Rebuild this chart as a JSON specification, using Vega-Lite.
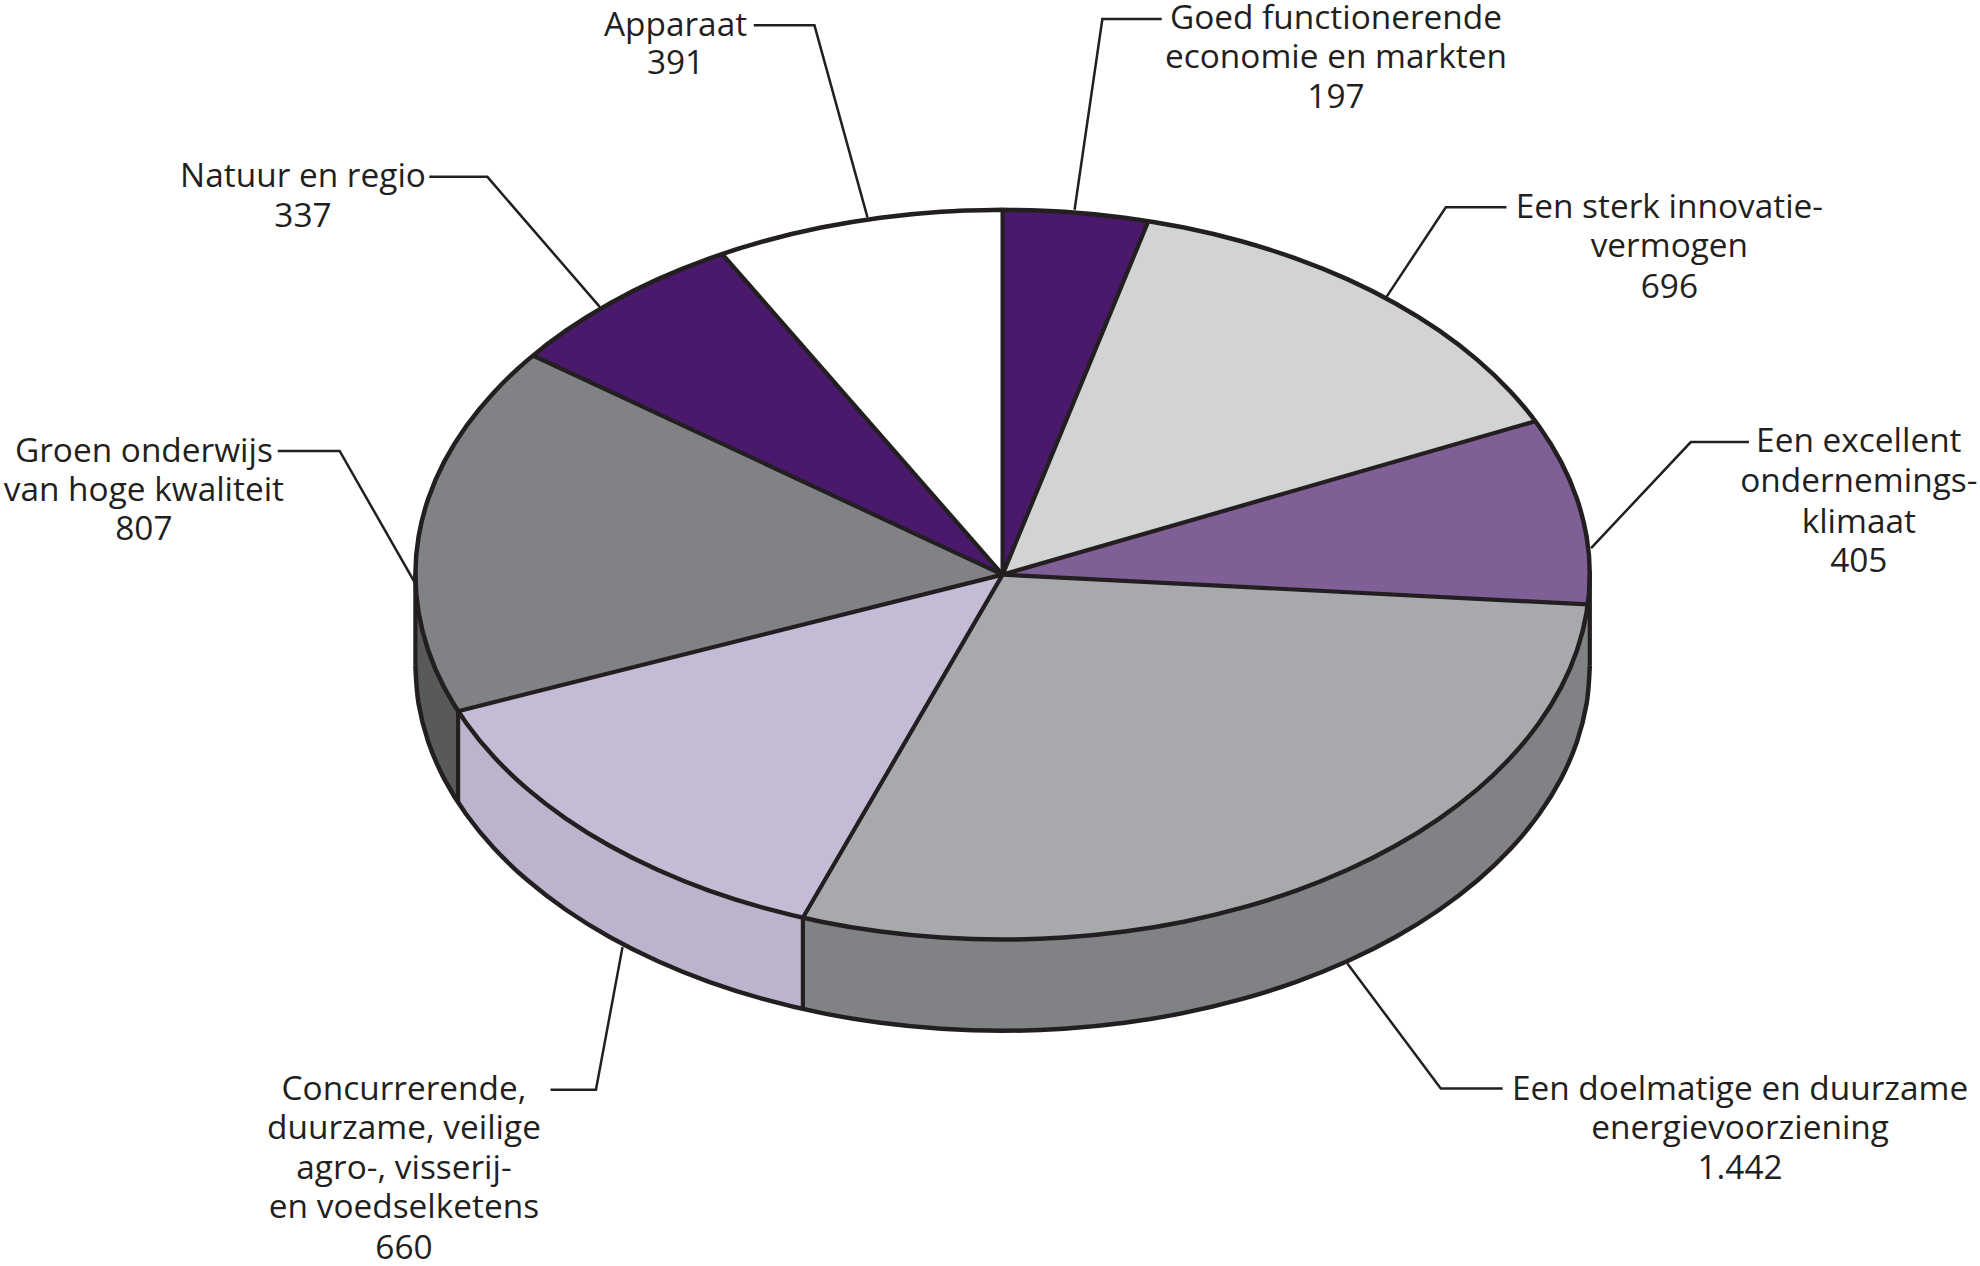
{
"$schema":"https://vega.github.io/schema/vega-lite/v6.json",
"width":1980,"height":1266,"padding":0,
"autosize":{"type":"fit","contains":"padding"},
"background":"white",
"config":{"view":{"stroke":null}},
"datasets":{
"vlakken":[
{"vlak":"Doelmatig zijkant","volg":1,"x":1,"y":0},{"vlak":"Doelmatig zijkant","volg":2,"x":0.9967,"y":-0.0818},{"vlak":"Doelmatig zijkant","volg":3,"x":0.9945,"y":-0.1045},{"vlak":"Doelmatig zijkant","volg":4,"x":0.9781,"y":-0.2079},{"vlak":"Doelmatig zijkant","volg":5,"x":0.9511,"y":-0.309},{"vlak":"Doelmatig zijkant","volg":6,"x":0.9135,"y":-0.4067},{"vlak":"Doelmatig zijkant","volg":7,"x":0.866,"y":-0.5},{"vlak":"Doelmatig zijkant","volg":8,"x":0.809,"y":-0.5878},{"vlak":"Doelmatig zijkant","volg":9,"x":0.7431,"y":-0.6691},{"vlak":"Doelmatig zijkant","volg":10,"x":0.6691,"y":-0.7431},{"vlak":"Doelmatig zijkant","volg":11,"x":0.5878,"y":-0.809},{"vlak":"Doelmatig zijkant","volg":12,"x":0.5,"y":-0.866},{"vlak":"Doelmatig zijkant","volg":13,"x":0.4067,"y":-0.9135},{"vlak":"Doelmatig zijkant","volg":14,"x":0.309,"y":-0.9511},{"vlak":"Doelmatig zijkant","volg":15,"x":0.2079,"y":-0.9781},{"vlak":"Doelmatig zijkant","volg":16,"x":0.1045,"y":-0.9945},{"vlak":"Doelmatig zijkant","volg":17,"x":0,"y":-1},{"vlak":"Doelmatig zijkant","volg":18,"x":-0.1045,"y":-0.9945},{"vlak":"Doelmatig zijkant","volg":19,"x":-0.2079,"y":-0.9781},{"vlak":"Doelmatig zijkant","volg":20,"x":-0.309,"y":-0.9511},{"vlak":"Doelmatig zijkant","volg":21,"x":-0.3401,"y":-0.9404},
{"vlak":"Doelmatig zijkant","volg":22,"x":-0.3401,"y":-1.1904},{"vlak":"Doelmatig zijkant","volg":23,"x":-0.309,"y":-1.2011},{"vlak":"Doelmatig zijkant","volg":24,"x":-0.2079,"y":-1.2281},{"vlak":"Doelmatig zijkant","volg":25,"x":-0.1045,"y":-1.2445},{"vlak":"Doelmatig zijkant","volg":26,"x":0,"y":-1.25},{"vlak":"Doelmatig zijkant","volg":27,"x":0.1045,"y":-1.2445},{"vlak":"Doelmatig zijkant","volg":28,"x":0.2079,"y":-1.2281},{"vlak":"Doelmatig zijkant","volg":29,"x":0.309,"y":-1.2011},{"vlak":"Doelmatig zijkant","volg":30,"x":0.4067,"y":-1.1635},{"vlak":"Doelmatig zijkant","volg":31,"x":0.5,"y":-1.116},{"vlak":"Doelmatig zijkant","volg":32,"x":0.5878,"y":-1.059},{"vlak":"Doelmatig zijkant","volg":33,"x":0.6691,"y":-0.9931},{"vlak":"Doelmatig zijkant","volg":34,"x":0.7431,"y":-0.9191},{"vlak":"Doelmatig zijkant","volg":35,"x":0.809,"y":-0.8378},{"vlak":"Doelmatig zijkant","volg":36,"x":0.866,"y":-0.75},{"vlak":"Doelmatig zijkant","volg":37,"x":0.9135,"y":-0.6567},{"vlak":"Doelmatig zijkant","volg":38,"x":0.9511,"y":-0.559},{"vlak":"Doelmatig zijkant","volg":39,"x":0.9781,"y":-0.4579},{"vlak":"Doelmatig zijkant","volg":40,"x":0.9945,"y":-0.3545},{"vlak":"Doelmatig zijkant","volg":41,"x":0.9967,"y":-0.3318},{"vlak":"Doelmatig zijkant","volg":42,"x":1,"y":-0.25},{"vlak":"Doelmatig zijkant","volg":43,"x":1,"y":0},

{"vlak":"Concurrerend zijkant","volg":1,"x":-0.3401,"y":-0.9404},{"vlak":"Concurrerend zijkant","volg":2,"x":-0.4067,"y":-0.9135},{"vlak":"Concurrerend zijkant","volg":3,"x":-0.5,"y":-0.866},{"vlak":"Concurrerend zijkant","volg":4,"x":-0.5878,"y":-0.809},{"vlak":"Concurrerend zijkant","volg":5,"x":-0.6691,"y":-0.7431},{"vlak":"Concurrerend zijkant","volg":6,"x":-0.7431,"y":-0.6691},{"vlak":"Concurrerend zijkant","volg":7,"x":-0.809,"y":-0.5878},{"vlak":"Concurrerend zijkant","volg":8,"x":-0.866,"y":-0.5},{"vlak":"Concurrerend zijkant","volg":9,"x":-0.9135,"y":-0.4067},{"vlak":"Concurrerend zijkant","volg":10,"x":-0.9273,"y":-0.3742},
{"vlak":"Concurrerend zijkant","volg":11,"x":-0.9273,"y":-0.6242},{"vlak":"Concurrerend zijkant","volg":12,"x":-0.9135,"y":-0.6567},{"vlak":"Concurrerend zijkant","volg":13,"x":-0.866,"y":-0.75},{"vlak":"Concurrerend zijkant","volg":14,"x":-0.809,"y":-0.8378},{"vlak":"Concurrerend zijkant","volg":15,"x":-0.7431,"y":-0.9191},{"vlak":"Concurrerend zijkant","volg":16,"x":-0.6691,"y":-0.9931},{"vlak":"Concurrerend zijkant","volg":17,"x":-0.5878,"y":-1.059},{"vlak":"Concurrerend zijkant","volg":18,"x":-0.5,"y":-1.116},{"vlak":"Concurrerend zijkant","volg":19,"x":-0.4067,"y":-1.1635},{"vlak":"Concurrerend zijkant","volg":20,"x":-0.3401,"y":-1.1904},{"vlak":"Concurrerend zijkant","volg":21,"x":-0.3401,"y":-0.9404},

{"vlak":"Groen zijkant","volg":1,"x":-0.9273,"y":-0.3742},{"vlak":"Groen zijkant","volg":2,"x":-0.9511,"y":-0.309},{"vlak":"Groen zijkant","volg":3,"x":-0.9781,"y":-0.2079},{"vlak":"Groen zijkant","volg":4,"x":-0.9945,"y":-0.1045},{"vlak":"Groen zijkant","volg":5,"x":-1,"y":0},{"vlak":"Groen zijkant","volg":6,"x":-1,"y":-0.25},{"vlak":"Groen zijkant","volg":7,"x":-0.9945,"y":-0.3545},{"vlak":"Groen zijkant","volg":8,"x":-0.9781,"y":-0.4579},{"vlak":"Groen zijkant","volg":9,"x":-0.9511,"y":-0.559},{"vlak":"Groen zijkant","volg":10,"x":-0.9273,"y":-0.6242},{"vlak":"Groen zijkant","volg":11,"x":-0.9273,"y":-0.3742},

{"vlak":"Goed","volg":0,"x":0,"y":0},{"vlak":"Goed","volg":1,"x":0,"y":1},{"vlak":"Goed","volg":2,"x":0.1045,"y":0.9945},{"vlak":"Goed","volg":3,"x":0.2079,"y":0.9781},{"vlak":"Goed","volg":4,"x":0.2482,"y":0.9687},{"vlak":"Goed","volg":5,"x":0,"y":0},

{"vlak":"Sterk","volg":0,"x":0,"y":0},{"vlak":"Sterk","volg":1,"x":0.2482,"y":0.9687},{"vlak":"Sterk","volg":2,"x":0.309,"y":0.9511},{"vlak":"Sterk","volg":3,"x":0.4067,"y":0.9135},{"vlak":"Sterk","volg":4,"x":0.5,"y":0.866},{"vlak":"Sterk","volg":5,"x":0.5878,"y":0.809},{"vlak":"Sterk","volg":6,"x":0.6691,"y":0.7431},{"vlak":"Sterk","volg":7,"x":0.7431,"y":0.6691},{"vlak":"Sterk","volg":8,"x":0.809,"y":0.5878},{"vlak":"Sterk","volg":9,"x":0.866,"y":0.5},{"vlak":"Sterk","volg":10,"x":0.9073,"y":0.4204},{"vlak":"Sterk","volg":11,"x":0,"y":0},

{"vlak":"Excellent","volg":0,"x":0,"y":0},{"vlak":"Excellent","volg":1,"x":0.9073,"y":0.4204},{"vlak":"Excellent","volg":2,"x":0.9135,"y":0.4067},{"vlak":"Excellent","volg":3,"x":0.9511,"y":0.309},{"vlak":"Excellent","volg":4,"x":0.9781,"y":0.2079},{"vlak":"Excellent","volg":5,"x":0.9945,"y":0.1045},{"vlak":"Excellent","volg":6,"x":1,"y":0},{"vlak":"Excellent","volg":7,"x":0.9967,"y":-0.0818},{"vlak":"Excellent","volg":8,"x":0,"y":0},

{"vlak":"Doelmatig","volg":0,"x":0,"y":0},{"vlak":"Doelmatig","volg":1,"x":0.9967,"y":-0.0818},{"vlak":"Doelmatig","volg":2,"x":0.9945,"y":-0.1045},{"vlak":"Doelmatig","volg":3,"x":0.9781,"y":-0.2079},{"vlak":"Doelmatig","volg":4,"x":0.9511,"y":-0.309},{"vlak":"Doelmatig","volg":5,"x":0.9135,"y":-0.4067},{"vlak":"Doelmatig","volg":6,"x":0.866,"y":-0.5},{"vlak":"Doelmatig","volg":7,"x":0.809,"y":-0.5878},{"vlak":"Doelmatig","volg":8,"x":0.7431,"y":-0.6691},{"vlak":"Doelmatig","volg":9,"x":0.6691,"y":-0.7431},{"vlak":"Doelmatig","volg":10,"x":0.5878,"y":-0.809},{"vlak":"Doelmatig","volg":11,"x":0.5,"y":-0.866},{"vlak":"Doelmatig","volg":12,"x":0.4067,"y":-0.9135},{"vlak":"Doelmatig","volg":13,"x":0.309,"y":-0.9511},{"vlak":"Doelmatig","volg":14,"x":0.2079,"y":-0.9781},{"vlak":"Doelmatig","volg":15,"x":0.1045,"y":-0.9945},{"vlak":"Doelmatig","volg":16,"x":0,"y":-1},{"vlak":"Doelmatig","volg":17,"x":-0.1045,"y":-0.9945},{"vlak":"Doelmatig","volg":18,"x":-0.2079,"y":-0.9781},{"vlak":"Doelmatig","volg":19,"x":-0.309,"y":-0.9511},{"vlak":"Doelmatig","volg":20,"x":-0.3401,"y":-0.9404},{"vlak":"Doelmatig","volg":21,"x":0,"y":0},

{"vlak":"Concurrerend","volg":0,"x":0,"y":0},{"vlak":"Concurrerend","volg":1,"x":-0.3401,"y":-0.9404},{"vlak":"Concurrerend","volg":2,"x":-0.4067,"y":-0.9135},{"vlak":"Concurrerend","volg":3,"x":-0.5,"y":-0.866},{"vlak":"Concurrerend","volg":4,"x":-0.5878,"y":-0.809},{"vlak":"Concurrerend","volg":5,"x":-0.6691,"y":-0.7431},{"vlak":"Concurrerend","volg":6,"x":-0.7431,"y":-0.6691},{"vlak":"Concurrerend","volg":7,"x":-0.809,"y":-0.5878},{"vlak":"Concurrerend","volg":8,"x":-0.866,"y":-0.5},{"vlak":"Concurrerend","volg":9,"x":-0.9135,"y":-0.4067},{"vlak":"Concurrerend","volg":10,"x":-0.9273,"y":-0.3742},{"vlak":"Concurrerend","volg":11,"x":0,"y":0},

{"vlak":"Groen","volg":0,"x":0,"y":0},{"vlak":"Groen","volg":1,"x":-0.9273,"y":-0.3742},{"vlak":"Groen","volg":2,"x":-0.9511,"y":-0.309},{"vlak":"Groen","volg":3,"x":-0.9781,"y":-0.2079},{"vlak":"Groen","volg":4,"x":-0.9945,"y":-0.1045},{"vlak":"Groen","volg":5,"x":-1,"y":0},{"vlak":"Groen","volg":6,"x":-0.9945,"y":0.1045},{"vlak":"Groen","volg":7,"x":-0.9781,"y":0.2079},{"vlak":"Groen","volg":8,"x":-0.9511,"y":0.309},{"vlak":"Groen","volg":9,"x":-0.9135,"y":0.4067},{"vlak":"Groen","volg":10,"x":-0.866,"y":0.5},{"vlak":"Groen","volg":11,"x":-0.809,"y":0.5878},{"vlak":"Groen","volg":12,"x":-0.7997,"y":0.6004},{"vlak":"Groen","volg":13,"x":0,"y":0},

{"vlak":"Natuur","volg":0,"x":0,"y":0},{"vlak":"Natuur","volg":1,"x":-0.7997,"y":0.6004},{"vlak":"Natuur","volg":2,"x":-0.7431,"y":0.6691},{"vlak":"Natuur","volg":3,"x":-0.6691,"y":0.7431},{"vlak":"Natuur","volg":4,"x":-0.5878,"y":0.809},{"vlak":"Natuur","volg":5,"x":-0.5,"y":0.866},{"vlak":"Natuur","volg":6,"x":-0.4775,"y":0.8786},{"vlak":"Natuur","volg":7,"x":0,"y":0},

{"vlak":"Apparaat","volg":0,"x":0,"y":0},{"vlak":"Apparaat","volg":1,"x":-0.4775,"y":0.8786},{"vlak":"Apparaat","volg":2,"x":-0.4067,"y":0.9135},{"vlak":"Apparaat","volg":3,"x":-0.309,"y":0.9511},{"vlak":"Apparaat","volg":4,"x":-0.2079,"y":0.9781},{"vlak":"Apparaat","volg":5,"x":-0.1045,"y":0.9945},{"vlak":"Apparaat","volg":6,"x":0,"y":1},{"vlak":"Apparaat","volg":7,"x":0,"y":0}
],
"randen":[
{"rand":"boven","volg":1,"x":0,"y":1},{"rand":"boven","volg":2,"x":0.1045,"y":0.9945},{"rand":"boven","volg":3,"x":0.2079,"y":0.9781},{"rand":"boven","volg":4,"x":0.309,"y":0.9511},{"rand":"boven","volg":5,"x":0.4067,"y":0.9135},{"rand":"boven","volg":6,"x":0.5,"y":0.866},{"rand":"boven","volg":7,"x":0.5878,"y":0.809},{"rand":"boven","volg":8,"x":0.6691,"y":0.7431},{"rand":"boven","volg":9,"x":0.7431,"y":0.6691},{"rand":"boven","volg":10,"x":0.809,"y":0.5878},{"rand":"boven","volg":11,"x":0.866,"y":0.5},{"rand":"boven","volg":12,"x":0.9135,"y":0.4067},{"rand":"boven","volg":13,"x":0.9511,"y":0.309},{"rand":"boven","volg":14,"x":0.9781,"y":0.2079},{"rand":"boven","volg":15,"x":0.9945,"y":0.1045},{"rand":"boven","volg":16,"x":1,"y":0},{"rand":"boven","volg":17,"x":0.9945,"y":-0.1045},{"rand":"boven","volg":18,"x":0.9781,"y":-0.2079},{"rand":"boven","volg":19,"x":0.9511,"y":-0.309},{"rand":"boven","volg":20,"x":0.9135,"y":-0.4067},{"rand":"boven","volg":21,"x":0.866,"y":-0.5},{"rand":"boven","volg":22,"x":0.809,"y":-0.5878},{"rand":"boven","volg":23,"x":0.7431,"y":-0.6691},{"rand":"boven","volg":24,"x":0.6691,"y":-0.7431},{"rand":"boven","volg":25,"x":0.5878,"y":-0.809},{"rand":"boven","volg":26,"x":0.5,"y":-0.866},{"rand":"boven","volg":27,"x":0.4067,"y":-0.9135},{"rand":"boven","volg":28,"x":0.309,"y":-0.9511},{"rand":"boven","volg":29,"x":0.2079,"y":-0.9781},{"rand":"boven","volg":30,"x":0.1045,"y":-0.9945},{"rand":"boven","volg":31,"x":0,"y":-1},{"rand":"boven","volg":32,"x":-0.1045,"y":-0.9945},{"rand":"boven","volg":33,"x":-0.2079,"y":-0.9781},{"rand":"boven","volg":34,"x":-0.309,"y":-0.9511},{"rand":"boven","volg":35,"x":-0.4067,"y":-0.9135},{"rand":"boven","volg":36,"x":-0.5,"y":-0.866},{"rand":"boven","volg":37,"x":-0.5878,"y":-0.809},{"rand":"boven","volg":38,"x":-0.6691,"y":-0.7431},{"rand":"boven","volg":39,"x":-0.7431,"y":-0.6691},{"rand":"boven","volg":40,"x":-0.809,"y":-0.5878},{"rand":"boven","volg":41,"x":-0.866,"y":-0.5},{"rand":"boven","volg":42,"x":-0.9135,"y":-0.4067},{"rand":"boven","volg":43,"x":-0.9511,"y":-0.309},{"rand":"boven","volg":44,"x":-0.9781,"y":-0.2079},{"rand":"boven","volg":45,"x":-0.9945,"y":-0.1045},{"rand":"boven","volg":46,"x":-1,"y":0},{"rand":"boven","volg":47,"x":-0.9945,"y":0.1045},{"rand":"boven","volg":48,"x":-0.9781,"y":0.2079},{"rand":"boven","volg":49,"x":-0.9511,"y":0.309},{"rand":"boven","volg":50,"x":-0.9135,"y":0.4067},{"rand":"boven","volg":51,"x":-0.866,"y":0.5},{"rand":"boven","volg":52,"x":-0.809,"y":0.5878},{"rand":"boven","volg":53,"x":-0.7431,"y":0.6691},{"rand":"boven","volg":54,"x":-0.6691,"y":0.7431},{"rand":"boven","volg":55,"x":-0.5878,"y":0.809},{"rand":"boven","volg":56,"x":-0.5,"y":0.866},{"rand":"boven","volg":57,"x":-0.4067,"y":0.9135},{"rand":"boven","volg":58,"x":-0.309,"y":0.9511},{"rand":"boven","volg":59,"x":-0.2079,"y":0.9781},{"rand":"boven","volg":60,"x":-0.1045,"y":0.9945},{"rand":"boven","volg":61,"x":0,"y":1},

{"rand":"onder","volg":1,"x":1,"y":-0.25},{"rand":"onder","volg":2,"x":0.9945,"y":-0.3545},{"rand":"onder","volg":3,"x":0.9781,"y":-0.4579},{"rand":"onder","volg":4,"x":0.9511,"y":-0.559},{"rand":"onder","volg":5,"x":0.9135,"y":-0.6567},{"rand":"onder","volg":6,"x":0.866,"y":-0.75},{"rand":"onder","volg":7,"x":0.809,"y":-0.8378},{"rand":"onder","volg":8,"x":0.7431,"y":-0.9191},{"rand":"onder","volg":9,"x":0.6691,"y":-0.9931},{"rand":"onder","volg":10,"x":0.5878,"y":-1.059},{"rand":"onder","volg":11,"x":0.5,"y":-1.116},{"rand":"onder","volg":12,"x":0.4067,"y":-1.1635},{"rand":"onder","volg":13,"x":0.309,"y":-1.2011},{"rand":"onder","volg":14,"x":0.2079,"y":-1.2281},{"rand":"onder","volg":15,"x":0.1045,"y":-1.2445},{"rand":"onder","volg":16,"x":0,"y":-1.25},{"rand":"onder","volg":17,"x":-0.1045,"y":-1.2445},{"rand":"onder","volg":18,"x":-0.2079,"y":-1.2281},{"rand":"onder","volg":19,"x":-0.309,"y":-1.2011},{"rand":"onder","volg":20,"x":-0.4067,"y":-1.1635},{"rand":"onder","volg":21,"x":-0.5,"y":-1.116},{"rand":"onder","volg":22,"x":-0.5878,"y":-1.059},{"rand":"onder","volg":23,"x":-0.6691,"y":-0.9931},{"rand":"onder","volg":24,"x":-0.7431,"y":-0.9191},{"rand":"onder","volg":25,"x":-0.809,"y":-0.8378},{"rand":"onder","volg":26,"x":-0.866,"y":-0.75},{"rand":"onder","volg":27,"x":-0.9135,"y":-0.6567},{"rand":"onder","volg":28,"x":-0.9511,"y":-0.559},{"rand":"onder","volg":29,"x":-0.9781,"y":-0.4579},{"rand":"onder","volg":30,"x":-0.9945,"y":-0.3545},{"rand":"onder","volg":31,"x":-1,"y":-0.25}
],
"spaken":[
{"spaak":"a","volg":1,"x":0,"y":0},{"spaak":"a","volg":2,"x":0,"y":1},
{"spaak":"b","volg":1,"x":0,"y":0},{"spaak":"b","volg":2,"x":0.2482,"y":0.9687},
{"spaak":"c","volg":1,"x":0,"y":0},{"spaak":"c","volg":2,"x":0.9073,"y":0.4204},
{"spaak":"d","volg":1,"x":0,"y":0},{"spaak":"d","volg":2,"x":0.9967,"y":-0.0818},
{"spaak":"e","volg":1,"x":0,"y":0},{"spaak":"e","volg":2,"x":-0.3401,"y":-0.9404},{"spaak":"e","volg":3,"x":-0.3401,"y":-1.1904},
{"spaak":"f","volg":1,"x":0,"y":0},{"spaak":"f","volg":2,"x":-0.9273,"y":-0.3742},{"spaak":"f","volg":3,"x":-0.9273,"y":-0.6242},
{"spaak":"g","volg":1,"x":0,"y":0},{"spaak":"g","volg":2,"x":-0.7997,"y":0.6004},
{"spaak":"h","volg":1,"x":0,"y":0},{"spaak":"h","volg":2,"x":-0.4775,"y":0.8786},
{"spaak":"i","volg":1,"x":1,"y":0},{"spaak":"i","volg":2,"x":1,"y":-0.25},
{"spaak":"j","volg":1,"x":-1,"y":0},{"spaak":"j","volg":2,"x":-1,"y":-0.25}
],
"lijnen":[
{"naar":"Goed","volg":1,"x":0.1226,"y":1.0},{"naar":"Goed","volg":2,"x":0.1699,"y":1.5225},{"naar":"Goed","volg":3,"x":0.271,"y":1.5225},
{"naar":"Apparaat","volg":1,"x":-0.2301,"y":0.9792},{"naar":"Apparaat","volg":2,"x":-0.3204,"y":1.5052},{"naar":"Apparaat","volg":3,"x":-0.4237,"y":1.5052},
{"naar":"Natuur","volg":1,"x":-0.686,"y":0.7336},{"naar":"Natuur","volg":2,"x":-0.8774,"y":1.09},{"naar":"Natuur","volg":3,"x":-0.9763,"y":1.09},
{"naar":"Groen","volg":1,"x":-0.9978,"y":-0.0311},{"naar":"Groen","volg":2,"x":-1.129,"y":0.3391},{"naar":"Groen","volg":3,"x":-1.2344,"y":0.3391},
{"naar":"Concurrerend","volg":1,"x":-0.6473,"y":-1.0208},{"naar":"Concurrerend","volg":2,"x":-0.6925,"y":-1.4118},{"naar":"Concurrerend","volg":3,"x":-0.7699,"y":-1.4118},
{"naar":"Doelmatig","volg":1,"x":0.5871,"y":-1.0657},{"naar":"Doelmatig","volg":2,"x":0.7462,"y":-1.4083},{"naar":"Doelmatig","volg":3,"x":0.8516,"y":-1.4083},
{"naar":"Excellent","volg":1,"x":1.0022,"y":0.0727},{"naar":"Excellent","volg":2,"x":1.172,"y":0.3633},{"naar":"Excellent","volg":3,"x":1.271,"y":0.3633},
{"naar":"Sterk","volg":1,"x":0.6538,"y":0.7612},{"naar":"Sterk","volg":2,"x":0.7548,"y":1.0069},{"naar":"Sterk","volg":3,"x":0.8581,"y":1.0069}
],
"teksten":[
{"t":"Goed functionerende","x":0.5677,"y":1.526},{"t":"economie en markten","x":0.5677,"y":1.4187},{"t":"197","x":0.5677,"y":1.308},
{"t":"Apparaat","x":-0.557,"y":1.5052},{"t":"391","x":-0.557,"y":1.4014},
{"t":"Natuur en regio","x":-1.1914,"y":1.0934},{"t":"337","x":-1.1914,"y":0.9827},
{"t":"Groen onderwijs","x":-1.4624,"y":0.3391},{"t":"van hoge kwaliteit","x":-1.4624,"y":0.2318},{"t":"807","x":-1.4624,"y":0.1246},
{"t":"Concurrerende,","x":-1.0194,"y":-1.4083},{"t":"duurzame, veilige","x":-1.0194,"y":-1.5156},{"t":"agro-, visserij-","x":-1.0194,"y":-1.6263},{"t":"en voedselketens","x":-1.0194,"y":-1.7336},{"t":"660","x":-1.0194,"y":-1.8443},
{"t":"Een doelmatige en duurzame","x":1.2559,"y":-1.4083},{"t":"energievoorziening","x":1.2559,"y":-1.5156},{"t":"1.442","x":1.2559,"y":-1.6263},
{"t":"Een excellent","x":1.4581,"y":0.3668},{"t":"ondernemings-","x":1.4581,"y":0.2561},{"t":"klimaat","x":1.4581,"y":0.1453},{"t":"405","x":1.4581,"y":0.0381},
{"t":"Een sterk innovatie-","x":1.1355,"y":1.0069},{"t":"vermogen","x":1.1355,"y":0.8997},{"t":"696","x":1.1355,"y":0.7889}
]
},
"layer":[
{"data":{"name":"lijnen"},
 "mark":{"type":"line","stroke":"#231f20","strokeWidth":2.5},
 "encoding":{
  "x":{"field":"x","type":"quantitative","axis":null,"scale":{"domain":[-1.7074,1.6645],"nice":false,"zero":false}},
  "y":{"field":"y","type":"quantitative","axis":null,"scale":{"domain":[-1.8947,1.5747],"nice":false,"zero":false}},
  "detail":{"field":"naar"},
  "order":{"field":"volg","type":"quantitative"}}},
{"data":{"name":"vlakken"},
 "mark":{"type":"line","strokeWidth":0},
 "encoding":{
  "x":{"field":"x","type":"quantitative","axis":null},
  "y":{"field":"y","type":"quantitative","axis":null},
  "order":{"field":"volg","type":"quantitative"},
  "fill":{"field":"vlak","type":"nominal","legend":null,"scale":{
   "domain":["Doelmatig zijkant","Concurrerend zijkant","Groen zijkant","Goed","Sterk","Excellent","Doelmatig","Concurrerend","Groen","Natuur","Apparaat"],
   "range":["#808285","#bcb4cd","#58595b","#4a196b","#d1d3d4","#7e6097","#a7a9ac","#c4bbd4","#808285","#4a196b","#ffffff"]}}}},
{"data":{"name":"spaken"},
 "mark":{"type":"line","stroke":"#231f20","strokeWidth":4.2,"strokeJoin":"round"},
 "encoding":{
  "x":{"field":"x","type":"quantitative","axis":null},
  "y":{"field":"y","type":"quantitative","axis":null},
  "detail":{"field":"spaak"},
  "order":{"field":"volg","type":"quantitative"}}},
{"data":{"name":"randen"},
 "mark":{"type":"line","stroke":"#231f20","strokeWidth":4.5,"interpolate":"cardinal"},
 "encoding":{
  "x":{"field":"x","type":"quantitative","axis":null},
  "y":{"field":"y","type":"quantitative","axis":null},
  "detail":{"field":"rand"},
  "order":{"field":"volg","type":"quantitative"}}},
{"data":{"name":"teksten"},
 "mark":{"type":"text","font":"Open Sans","fontSize":33.4,"fill":"#231f20","align":"center","baseline":"middle","dy":1},
 "encoding":{
  "x":{"field":"x","type":"quantitative","axis":null},
  "y":{"field":"y","type":"quantitative","axis":null},
  "text":{"field":"t"}}}
]
}
